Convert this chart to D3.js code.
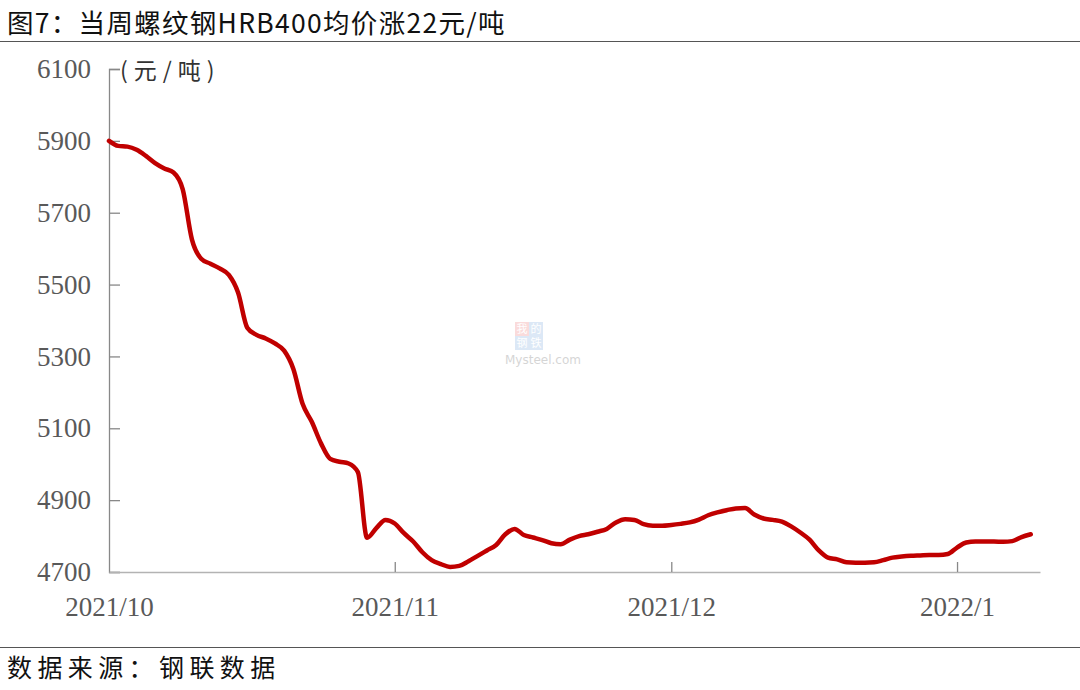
<!DOCTYPE html>
<html>
<head>
<meta charset="utf-8">
<script src="https://cdn.jsdelivr.net/npm/d3@7"></script>
<style>
  html, body { margin: 0; padding: 0; background: #fff; }
  svg { display: block; }
</style>
</head>
<body>
<svg id="chart"></svg>
<script>
// 螺纹钢HRB400均价 (元/吨)
var dates = [
  '2021-10-01','2021-10-02','2021-10-03','2021-10-04','2021-10-05','2021-10-06','2021-10-07','2021-10-08','2021-10-09','2021-10-10',
  '2021-10-11','2021-10-12','2021-10-13','2021-10-14','2021-10-15','2021-10-16','2021-10-17','2021-10-18','2021-10-19','2021-10-20',
  '2021-10-21','2021-10-22','2021-10-23','2021-10-24','2021-10-25','2021-10-26','2021-10-27','2021-10-28','2021-10-29','2021-10-30',
  '2021-10-31','2021-11-01','2021-11-02','2021-11-03','2021-11-04','2021-11-05','2021-11-06','2021-11-07','2021-11-08','2021-11-09',
  '2021-11-10','2021-11-11','2021-11-12','2021-11-13','2021-11-14','2021-11-15','2021-11-16','2021-11-17','2021-11-18','2021-11-19',
  '2021-11-20','2021-11-21','2021-11-22','2021-11-23','2021-11-24','2021-11-25','2021-11-26','2021-11-27','2021-11-28','2021-11-29',
  '2021-11-30','2021-12-01','2021-12-02','2021-12-03','2021-12-04','2021-12-05','2021-12-06','2021-12-07','2021-12-08','2021-12-09',
  '2021-12-10','2021-12-11','2021-12-12','2021-12-13','2021-12-14','2021-12-15','2021-12-16','2021-12-17','2021-12-18','2021-12-19',
  '2021-12-20','2021-12-21','2021-12-22','2021-12-23','2021-12-24','2021-12-25','2021-12-26','2021-12-27','2021-12-28','2021-12-29',
  '2021-12-30','2021-12-31','2022-01-01','2022-01-02','2022-01-03','2022-01-04','2022-01-05','2022-01-06','2022-01-07','2022-01-08',
  '2022-01-09'
];
var prices = [
  5900, 5886, 5884, 5875, 5858, 5838, 5823, 5812, 5765, 5625,
  5572, 5558, 5545, 5527, 5478, 5380, 5360, 5350, 5336, 5316,
  5265, 5168, 5118, 5058, 5015, 5007, 5002, 4978, 4795, 4822,
  4845, 4835, 4808, 4785, 4755, 4733, 4722, 4714, 4717, 4730,
  4745, 4760, 4775, 4805, 4820, 4803, 4796, 4789, 4780, 4777,
  4790, 4800, 4805, 4812, 4820, 4838, 4847, 4845, 4833, 4829,
  4829, 4831, 4834, 4838, 4846, 4858, 4866, 4872, 4877, 4878,
  4860, 4849, 4845, 4840, 4827, 4810, 4790, 4760, 4740, 4735,
  4727, 4726, 4726, 4727, 4733, 4740, 4743, 4745, 4746, 4747,
  4747, 4750, 4768, 4782, 4785, 4785, 4785, 4784, 4786, 4797,
  4805
];
var yTicks = [4700, 4900, 5100, 5300, 5500, 5700, 5900, 6100];
var xTicks = ['2021-10-01', '2021-11-01', '2021-12-01', '2022-01-01'];
var xTickLabels = ['2021/10', '2021/11', '2021/12', '2022/1'];

var titleText = '图7：当周螺纹钢HRB400均价涨22元/吨';
var unitText = '(元/吨)';
var sourceText = '数据来源：钢联数据';

var width = 1080;
var height = 690;
var margin = { top: 69, right: 40, bottom: 118, left: 109 };

var parse = d3.timeParse('%Y-%m-%d');
var data = dates.map(function(d, i) {
  return { date: parse(d), value: prices[i] };
});

var svg = d3.select('#chart')
  .attr('width', width)
  .attr('height', height);

// x: Oct 1 .. Jan 10
var x = d3.scaleTime()
  .domain([parse('2021-10-01'), parse('2022-01-10')])
  .range([margin.left, width - margin.right]);

var y = d3.scaleLinear()
  .domain([4700, 6100])
  .range([height - margin.bottom, margin.top]);

var cjk = '"Noto Sans CJK SC", "Noto Sans", sans-serif';
var serif = '"Liberation Serif", "DejaVu Serif", serif';

// title + rule
svg.append('text')
  .attr('x', 7)
  .attr('y', 33)
  .attr('font-family', cjk)
  .attr('font-size', 26.5)
  .attr('letter-spacing', 1.3)
  .attr('fill', '#111')
  .text(titleText);

svg.append('line')
  .attr('x1', 0).attr('x2', width)
  .attr('y1', 41.5).attr('y2', 41.5)
  .attr('stroke', '#555')
  .attr('stroke-width', 1.2);

// footer
svg.append('line')
  .attr('x1', 0).attr('x2', width)
  .attr('y1', 647.5).attr('y2', 647.5)
  .attr('stroke', '#555')
  .attr('stroke-width', 1.2);

svg.append('text')
  .attr('x', 7)
  .attr('y', 677)
  .attr('font-family', cjk)
  .attr('font-size', 25)
  .attr('letter-spacing', 5.4)
  .attr('fill', '#111')
  .text(sourceText);

// y axis (ticks pointing inward)
var yAxis = svg.append('g')
  .attr('transform', 'translate(' + margin.left + ',0)')
  .call(d3.axisRight(y).tickValues(yTicks).tickSize(11).tickFormat(d3.format('d')));
yAxis.select('.domain').attr('stroke', '#888').attr('stroke-width', 1.3);
yAxis.selectAll('.tick line').attr('stroke', '#888').attr('stroke-width', 1.3);
yAxis.selectAll('.tick text')
  .attr('x', -18)
  .attr('text-anchor', 'end')
  .attr('font-family', serif)
  .attr('font-size', 27)
  .attr('fill', '#595959');

// x axis (ticks pointing up)
var xAxis = svg.append('g')
  .attr('transform', 'translate(0,' + (height - margin.bottom) + ')')
  .call(d3.axisTop(x).tickValues(xTicks.map(parse)).tickSize(10).tickSizeOuter(0)
    .tickFormat(function(d, i) { return xTickLabels[i]; }));
xAxis.select('.domain').attr('stroke', '#b3b3b3').attr('stroke-width', 1.5);
xAxis.selectAll('.tick line').attr('stroke', '#888').attr('stroke-width', 1.3);
xAxis.selectAll('.tick text')
  .attr('y', 44)
  .attr('dy', 0)
  .attr('font-family', serif)
  .attr('font-size', 27)
  .attr('fill', '#595959');
// first month sits on the y axis, no separate tick mark
xAxis.selectAll('.tick').filter(function(d, i) { return i === 0; }).select('line').remove();

// unit label
svg.append('text')
  .attr('x', 120)
  .attr('y', y(6100) + 10)
  .attr('font-family', cjk)
  .attr('font-size', 23)
  .attr('letter-spacing', 6)
  .attr('fill', '#333')
  .text(unitText);

// watermark
var wm = svg.append('g').attr('opacity', 0.4);
var wmChars = [['我', 515, 322, '#f4a6a6'], ['的', 529, 322, '#a9c8ea'], ['钢', 515, 336, '#a9c8ea'], ['铁', 529, 336, '#a9c8ea']];
wmChars.forEach(function(c) {
  wm.append('rect').attr('x', c[1]).attr('y', c[2]).attr('width', 14).attr('height', 14).attr('fill', c[3]);
  wm.append('text').attr('x', c[1] + 7).attr('y', c[2] + 11)
    .attr('text-anchor', 'middle')
    .attr('font-family', cjk).attr('font-size', 11).attr('fill', '#fff')
    .text(c[0]);
});
wm.append('text').attr('x', 505).attr('y', 364)
  .attr('font-family', '"DejaVu Sans", sans-serif').attr('font-size', 12).attr('fill', '#999')
  .text('Mysteel.com');

// price line
var line = d3.line()
  .x(function(d) { return x(d.date); })
  .y(function(d) { return y(d.value); })
  .curve(d3.curveMonotoneX);

svg.append('path')
  .datum(data)
  .attr('d', line)
  .attr('fill', 'none')
  .attr('stroke', '#c00000')
  .attr('stroke-width', 4.5)
  .attr('stroke-linejoin', 'round')
  .attr('stroke-linecap', 'round');
</script>
</body>
</html>
